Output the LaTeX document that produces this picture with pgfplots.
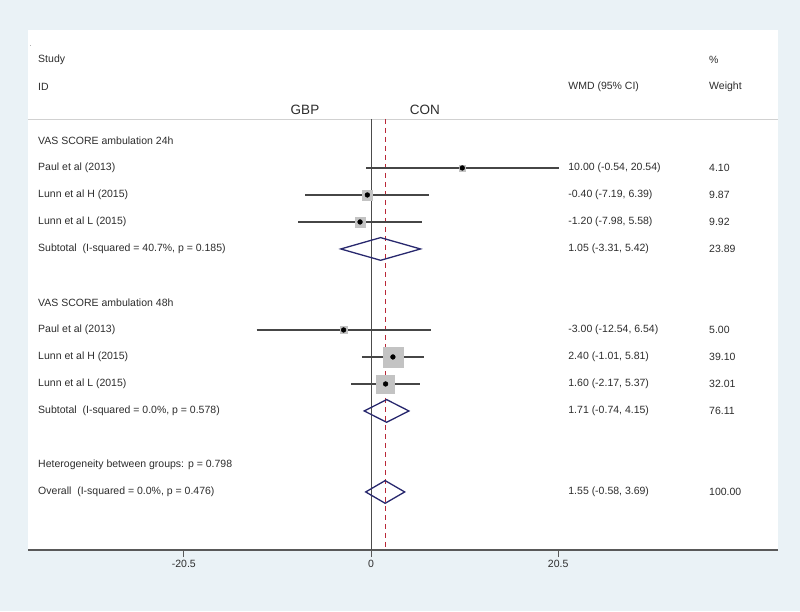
\documentclass[border=0pt]{standalone}
\usepackage{pgfplots}
\pgfplotsset{compat=1.18}
\usepackage{pgfplotstable}
\usepackage{fontspec}
\setmainfont{Liberation Sans}
\definecolor{bgblue}{RGB}{234,242,246}
\definecolor{navyd}{RGB}{40,40,110}
\definecolor{refred}{RGB}{185,40,55}
\definecolor{txt}{RGB}{45,45,45}
\definecolor{cigray}{RGB}{70,70,70}
\definecolor{sqgray}{RGB}{195,195,195}
\tikzset{lab/.style={anchor=west, inner sep=0pt, font=\fontsize{10.5}{12}\selectfont, text=txt}}
% est lo hi row(-) halfside
\pgfplotstableread{
est lo hi r ms
10.00 -0.54 20.54 -2 3.24
-0.40 -7.19 6.39 -3 5.02
-1.20 -7.98 5.58 -4 5.04
-3.00 -12.54 6.54 -8 3.58
2.40 -1.01 5.81 -9 10
1.60 -2.17 5.37 -10 9.05
}\studies
\begin{document}
\begin{tikzpicture}[x=1pt,y=1pt]
\fill[bgblue] (0,0) rectangle (800,611);
\begin{axis}[
  at={(28pt,61pt)}, anchor=south west,
  scale only axis, width=750pt, height=520pt,
  xmin=-37.57, xmax=44.58, ymin=-16.15, ymax=3.11,
  clip=false,
  axis background/.style={fill=white},
  axis x line*=bottom, axis y line=none,
  x axis line style={draw=black!65, line width=1.5pt, -},
  xtick={-20.5,0,20.5}, xticklabels={-20.5,0,20.5},
  tick align=outside, major tick length=7pt,
  tick style={black!65, line width=1pt},
  ticklabel style={font=\fontsize{10.5}{12}\selectfont, text=txt},
]
% header separator
\addplot[black!18, line width=0.8pt] coordinates {(-37.57,-0.185) (44.58,-0.185)};
% null line and overall line
\addplot[black!70, line width=1pt] coordinates {(0,-0.185) (0,-16.15)};
\addplot[refred, line width=0.9pt, dash pattern=on 5pt off 4pt] coordinates {(1.55,-0.185) (1.55,-16.15)};
% weight squares (half side proportional to sqrt of weight)
\addplot[only marks, mark=square*, mark size=3.24pt, mark options={draw=sqgray, fill=sqgray}] coordinates {(10.00,-2)};
\addplot[only marks, mark=square*, mark size=5.02pt, mark options={draw=sqgray, fill=sqgray}] coordinates {(-0.40,-3)};
\addplot[only marks, mark=square*, mark size=5.04pt, mark options={draw=sqgray, fill=sqgray}] coordinates {(-1.20,-4)};
\addplot[only marks, mark=square*, mark size=3.58pt, mark options={draw=sqgray, fill=sqgray}] coordinates {(-3.00,-8)};
\addplot[only marks, mark=square*, mark size=10pt, mark options={draw=sqgray, fill=sqgray}] coordinates {(2.40,-9)};
\addplot[only marks, mark=square*, mark size=9.05pt, mark options={draw=sqgray, fill=sqgray}] coordinates {(1.60,-10)};
% confidence intervals
\addplot[cigray, line width=1.3pt] coordinates {(-0.54,-2) (20.54,-2)};
\addplot[cigray, line width=1.3pt] coordinates {(-7.19,-3) (6.39,-3)};
\addplot[cigray, line width=1.3pt] coordinates {(-7.98,-4) (5.58,-4)};
\addplot[cigray, line width=1.3pt] coordinates {(-12.54,-8) (6.54,-8)};
\addplot[cigray, line width=1.3pt] coordinates {(-1.01,-9) (5.81,-9)};
\addplot[cigray, line width=1.3pt] coordinates {(-2.17,-10) (5.37,-10)};
% point estimates
\addplot[only marks, mark=*, mark size=2.4pt, black] table[x=est, y=r] {\studies};
% diamonds
\addplot[navyd, line width=1.3pt] coordinates {(-3.31,-5) (1.05,-4.58) (5.42,-5) (1.05,-5.42) (-3.31,-5)} -- cycle;
\addplot[navyd, line width=1.3pt] coordinates {(-0.74,-11) (1.71,-10.58) (4.15,-11) (1.71,-11.42) (-0.74,-11)} -- cycle;
\addplot[navyd, line width=1.3pt] coordinates {(-0.58,-14) (1.55,-13.58) (3.69,-14) (1.55,-14.42) (-0.58,-14)} -- cycle;
% text
\node[lab, font=\fontsize{6}{7}\selectfont] at (axis cs:-37.4,2.5) {.};
\node[lab] at (axis cs:-36.47,2) {Study};
\node[lab] at (axis cs:-36.47,1) {ID};
\node[lab] at (axis cs:37.02,2) {\%};
\node[lab] at (axis cs:21.6,1) {WMD (95\% CI)};
\node[lab] at (axis cs:37.02,1) {Weight};
\node[inner sep=0pt, font=\fontsize{13.5}{15}\selectfont, text=txt] at (axis cs:-7.23,0.15) {GBP};
\node[inner sep=0pt, font=\fontsize{13.5}{15}\selectfont, text=txt] at (axis cs:5.91,0.15) {CON};
\node[lab] at (axis cs:-36.47,-1) {VAS SCORE ambulation 24h};
\node[lab] at (axis cs:-36.47,-2) {Paul et al (2013)};
\node[lab] at (axis cs:21.6,-2) {10.00 (-0.54, 20.54)};
\node[lab] at (axis cs:37.02,-2) {4.10};
\node[lab] at (axis cs:-36.47,-3) {Lunn et al H (2015)};
\node[lab] at (axis cs:21.6,-3) {-0.40 (-7.19, 6.39)};
\node[lab] at (axis cs:37.02,-3) {9.87};
\node[lab] at (axis cs:-36.47,-4) {Lunn et al L (2015)};
\node[lab] at (axis cs:21.6,-4) {-1.20 (-7.98, 5.58)};
\node[lab] at (axis cs:37.02,-4) {9.92};
\node[lab] at (axis cs:-36.47,-5) {Subtotal\ \ (I-squared = 40.7\%, p = 0.185)};
\node[lab] at (axis cs:21.6,-5) {1.05 (-3.31, 5.42)};
\node[lab] at (axis cs:37.02,-5) {23.89};
\node[lab] at (axis cs:-36.47,-7) {VAS SCORE ambulation 48h};
\node[lab] at (axis cs:-36.47,-8) {Paul et al (2013)};
\node[lab] at (axis cs:21.6,-8) {-3.00 (-12.54, 6.54)};
\node[lab] at (axis cs:37.02,-8) {5.00};
\node[lab] at (axis cs:-36.47,-9) {Lunn et al H (2015)};
\node[lab] at (axis cs:21.6,-9) {2.40 (-1.01, 5.81)};
\node[lab] at (axis cs:37.02,-9) {39.10};
\node[lab] at (axis cs:-36.47,-10) {Lunn et al L (2015)};
\node[lab] at (axis cs:21.6,-10) {1.60 (-2.17, 5.37)};
\node[lab] at (axis cs:37.02,-10) {32.01};
\node[lab] at (axis cs:-36.47,-11) {Subtotal\ \ (I-squared = 0.0\%, p = 0.578)};
\node[lab] at (axis cs:21.6,-11) {1.71 (-0.74, 4.15)};
\node[lab] at (axis cs:37.02,-11) {76.11};
\node[lab] at (axis cs:-36.47,-13) {Heterogeneity between groups: p = 0.798};
\node[lab] at (axis cs:-36.47,-14) {Overall\ \ (I-squared = 0.0\%, p = 0.476)};
\node[lab] at (axis cs:21.6,-14) {1.55 (-0.58, 3.69)};
\node[lab] at (axis cs:37.02,-14) {100.00};
\end{axis}
\useasboundingbox (0,0) rectangle (800,611);
\end{tikzpicture}
\end{document}
